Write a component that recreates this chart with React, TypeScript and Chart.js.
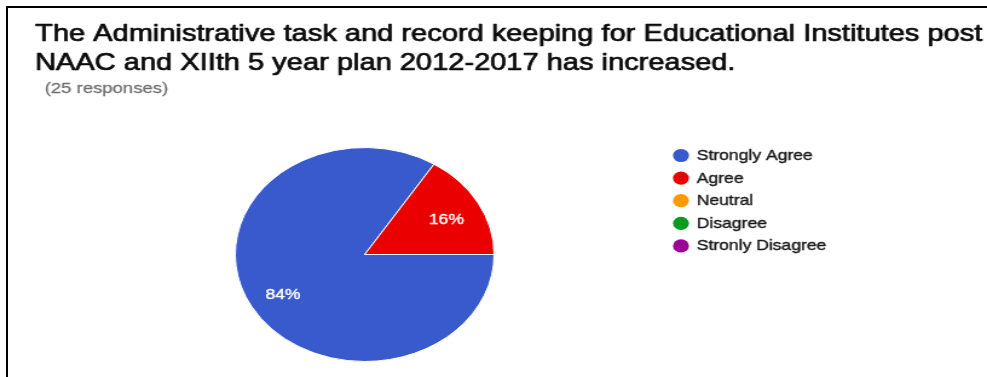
import React, { useEffect, useRef } from 'react';
import { Chart, registerables } from 'chart.js';

Chart.register(...registerables);

// ---- data ----
const titleLines = [
  'The Administrative task and record keeping for Educational Institutes post',
  'NAAC and XIIth 5 year plan 2012-2017 has increased.',
];
const subtitle = '(25 responses)';
const categories = ['Strongly Agree', 'Agree', 'Neutral', 'Disagree', 'Stronly Disagree'];
const responses = [21, 4, 0, 0, 0];
const sliceColors = ['#385ACD', '#EB0000', '#FF9900', '#0A9A1E', '#9C0099'];

// ---- layout ----
const W = 987;
const H = 377;
const SX = 1.2096; // the reference is stretched horizontally
const NW = Math.round(W / SX);
const FONT = '"Liberation Sans", Arial, Helvetica, sans-serif';

function heavyText(ctx: CanvasRenderingContext2D, text: string, x: number, y: number, color: string, w: number) {
  ctx.fillStyle = color;
  ctx.strokeStyle = color;
  ctx.lineWidth = w;
  ctx.lineJoin = 'round';
  ctx.strokeText(text, x, y);
  ctx.fillText(text, x, y);
}

const overlayPlugin = {
  id: 'overlay',
  afterDraw(chart: any) {
    const ctx = chart.ctx as CanvasRenderingContext2D;
    ctx.save();
    // title
    ctx.textAlign = 'left';
    ctx.textBaseline = 'alphabetic';
    ctx.font = `24px ${FONT}`;
    heavyText(ctx, titleLines[0], 29, 41, '#0a0a0a', 0.7);
    heavyText(ctx, titleLines[1], 29, 70, '#0a0a0a', 0.7);
    // subtitle
    ctx.font = `15.3px ${FONT}`;
    heavyText(ctx, subtitle, 37, 93, '#707070', 0.3);
    // legend
    const ds = chart.data.datasets[0];
    const labels = chart.data.labels as string[];
    ctx.font = `14.5px ${FONT}`;
    ctx.textBaseline = 'middle';
    labels.forEach((lab, i) => {
      const y = 155.5 + i * 22.6;
      ctx.fillStyle = ds.backgroundColor[i];
      ctx.beginPath();
      ctx.arc(563, y, 6.6, 0, Math.PI * 2);
      ctx.fill();
      heavyText(ctx, lab, 576, y + 0.5, '#1a1a1a', 0.4);
    });
    // percentage labels
    const meta = chart.getDatasetMeta(0);
    const values = ds.data as number[];
    const total = values.reduce((a, b) => a + b, 0);
    ctx.font = `14.5px ${FONT}`;
    ctx.textAlign = 'center';
    meta.data.forEach((arc: any, i: number) => {
      const v = values[i];
      if (!v) return;
      const p = arc.getProps(['x', 'y', 'startAngle', 'endAngle', 'outerRadius'], true);
      const mid = (p.startAngle + p.endAngle) / 2;
      const r = p.outerRadius * 0.72;
      const pct = Math.round((v / total) * 100) + '%';
      heavyText(ctx, pct, p.x + Math.cos(mid) * r, p.y + Math.sin(mid) * r + 3, '#ffffff', 0.4);
    });
    ctx.restore();
  },
};

export default function App() {
  const ref = useRef<HTMLCanvasElement>(null);
  useEffect(() => {
    if (!ref.current) return;
    const chart = new Chart(ref.current, {
      type: 'pie',
      data: {
        labels: categories,
        datasets: [
          {
            data: responses,
            backgroundColor: sliceColors,
            borderColor: '#ffffff',
            borderWidth: 1,
          },
        ],
      },
      options: {
        responsive: false,
        animation: false,
        rotation: 90,
        layout: { padding: { top: 147, bottom: 15, left: 194, right: NW - 409 } },
        plugins: {
          legend: { display: false },
          title: { display: false },
          tooltip: { enabled: false },
        },
      },
      plugins: [overlayPlugin],
    });
    return () => chart.destroy();
  }, []);
  return (
    <div style={{ position: 'absolute', left: 0, top: 0, width: W, height: H, background: '#fff', overflow: 'hidden' }}>
      <canvas
        ref={ref}
        width={NW}
        height={H}
        style={{ position: 'absolute', left: 0, top: 0, width: W + 'px', height: H + 'px' }}
      />
      <div
        style={{
          position: 'absolute',
          left: 6,
          top: 6,
          right: 0,
          bottom: 0,
          borderTop: '2px solid #000',
          borderLeft: '2px solid #000',
        }}
      />
    </div>
  );
}
